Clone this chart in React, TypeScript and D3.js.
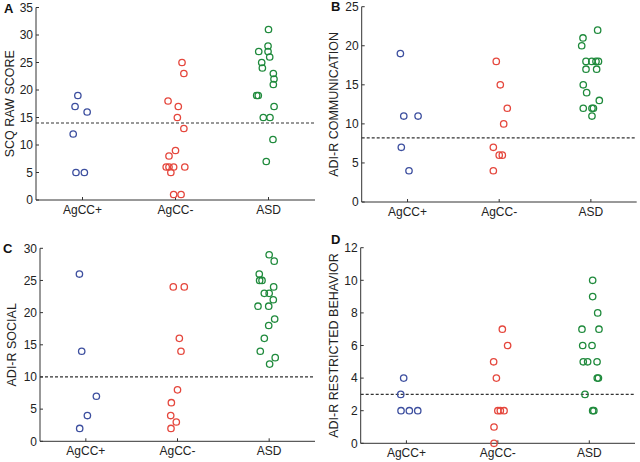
import React from "react";
import * as d3 from "d3";

const groups = ["AgCC+", "AgCC-", "ASD"];
const colors = ["#3d4f9f", "#e5473d", "#1f8a3c"];

// Panel A: SCQ raw score
const scqPlus = [19, 17, 16, 12, 5, 5];
const scqPlusJ = [-0.05, -0.08, 0.05, -0.1, -0.07, 0.02];
const scqMinus = [25, 23, 18, 17, 15, 13, 9, 8, 6, 6, 6, 6, 5, 1, 1];
const scqMinusJ = [0.07, 0.09, -0.08, 0.03, 0.02, 0.09, 0.0, -0.07, -0.1, -0.07, -0.02, 0.1, -0.05, -0.02, 0.06];
const scqAsd = [31, 28, 27, 27, 26, 25, 24, 23, 22, 21, 19, 19, 17, 15, 15, 11, 7];
const scqAsdJ = [0, -0.005, -0.005, -0.105, 0.013, -0.073, -0.066, 0.052, 0.059, 0.052, -0.127, -0.11, 0.06, -0.056, 0.016, 0.048, -0.024];
const scqCutoff = 14;

// Panel B: ADI-R communication
const commPlus = [19, 11, 11, 7, 4];
const commPlusJ = [-0.078, -0.041, 0.115, -0.068, 0.016];
const commMinus = [18, 15, 12, 10, 7, 6, 6, 4];
const commMinusJ = [-0.032, 0.012, 0.088, 0.049, -0.064, 0, 0.034, -0.064];
const commAsd = [22, 21, 20, 18, 18, 18, 18, 17, 17, 15, 14, 13, 12, 12, 12, 11];
const commAsdJ = [0.074, -0.086, -0.1, -0.053, 0.01, 0.056, 0.083, -0.053, 0.063, -0.083, -0.046, 0.092, -0.083, 0.012, 0.028, 0.012];
const commCutoff = 8.2;

// Panel C: ADI-R social
const socPlus = [26, 14, 7, 4, 2];
const socPlusJ = [-0.07, -0.045, 0.115, 0.017, -0.067];
const socMinus = [24, 24, 16, 14, 8, 6, 4, 3, 2];
const socMinusJ = [-0.046, 0.074, 0.02, 0.038, 0, -0.067, -0.074, -0.013, -0.071];
const socAsd = [29, 28, 26, 25, 25, 24, 23, 23, 22, 21, 21, 19, 18, 16, 14, 13, 12];
const socAsdJ = [0, 0.055, -0.108, -0.104, -0.078, 0.049, -0.053, 0, 0.045, -0.122, -0.005, 0.06, -0.005, -0.053, -0.097, 0.066, 0.005];
const socCutoff = 10;

// Panel D: ADI-R restricted behavior
const rrbPlus = [4, 3, 2, 2, 2];
const rrbPlusJ = [-0.03, -0.062, -0.059, 0.032, 0.124];
const rrbMinus = [7, 6, 5, 4, 2, 2, 2, 1, 0];
const rrbMinusJ = [0.049, 0.107, -0.046, -0.016, 0, 0.027, 0.068, -0.042, -0.042];
const rrbAsd = [10, 9, 8, 7, 7, 6, 6, 5, 5, 5, 4, 4, 3, 2, 2];
const rrbAsdJ = [0.037, 0.037, 0.092, -0.08, 0.106, -0.072, 0.03, -0.066, -0.018, 0.085, 0.087, 0.1, -0.047, 0.037, 0.05];
const rrbCutoff = 3;

const panels = [
  {
    letter: "A", label: "SCQ RAW SCORE", yMax: 35, step: 5, cutoff: scqCutoff,
    values: [scqPlus, scqMinus, scqAsd], jitter: [scqPlusJ, scqMinusJ, scqAsdJ],
    left: 36, right: 315, top: 7.5, bottom: 200, labelX: 14, letterX: 4, letterY: 13,
  },
  {
    letter: "B", label: "ADI-R COMMUNICATION", yMax: 25, step: 5, cutoff: commCutoff,
    values: [commPlus, commMinus, commAsd], jitter: [commPlusJ, commMinusJ, commAsdJ],
    left: 361.7, right: 636.7, top: 6.7, bottom: 202, labelX: 338, letterX: 331, letterY: 11,
  },
  {
    letter: "C", label: "ADI-R SOCIAL", yMax: 30, step: 5, cutoff: socCutoff,
    values: [socPlus, socMinus, socAsd], jitter: [socPlusJ, socMinusJ, socAsdJ],
    left: 40, right: 315, top: 248.3, bottom: 441.3, labelX: 16, letterX: 3, letterY: 253,
  },
  {
    letter: "D", label: "ADI-R RESTRICTED BEHAVIOR", yMax: 12, step: 2, cutoff: rrbCutoff,
    values: [rrbPlus, rrbMinus, rrbAsd], jitter: [rrbPlusJ, rrbMinusJ, rrbAsdJ],
    left: 360.7, right: 635, top: 247.7, bottom: 443.3, labelX: 338, letterX: 331, letterY: 244,
  },
];

const font = "Liberation Sans, Arial, Helvetica, sans-serif";
const axisColor = "#333";

function Panel({ p }: { p: (typeof panels)[number] }) {
  const x = d3.scaleLinear().domain([0.5, 3.5]).range([p.left, p.right]);
  const y = d3.scaleLinear().domain([0, p.yMax]).range([p.bottom, p.top]);
  const ticks = d3.range(0, p.yMax + 0.001, p.step);
  return (
    <g>
      <text x={p.letterX} y={p.letterY} fontFamily={font} fontWeight="bold" fontSize={13} fill="#111">
        {p.letter}
      </text>
      <text
        transform={`translate(${p.labelX},${(p.top + p.bottom) / 2}) rotate(-90)`}
        textAnchor="middle"
        fontFamily={font}
        fontSize={12.5}
        fill="#222"
      >
        {p.label}
      </text>
      {/* axes */}
      <line x1={x(0.5)} x2={x(0.5)} y1={y(p.yMax)} y2={y(0)} stroke={axisColor} strokeWidth={1} />
      <line x1={x(0.5)} x2={x(3.5)} y1={y(0)} y2={y(0)} stroke={axisColor} strokeWidth={1} />
      {ticks.map((t) => (
        <g key={t}>
          <line x1={x(0.5)} x2={x(0.5) + 3} y1={y(t)} y2={y(t)} stroke={axisColor} />
          <text
            x={x(0.5) - 3}
            y={y(t)}
            dy="0.36em"
            textAnchor="end"
            fontFamily={font}
            fontSize={12}
            fill="#222"
          >
            {t}
          </text>
        </g>
      ))}
      {groups.map((g, i) => (
        <g key={g}>
          <line x1={x(i + 1)} x2={x(i + 1)} y1={y(0)} y2={y(0) - 3} stroke={axisColor} />
          <text
            x={x(i + 1)}
            y={y(0) + 14}
            textAnchor="middle"
            fontFamily={font}
            fontSize={12}
            fill="#222"
          >
            {g}
          </text>
        </g>
      ))}
      {/* cutoff */}
      <line
        x1={x(0.5)}
        x2={x(3.5)}
        y1={y(p.cutoff)}
        y2={y(p.cutoff)}
        stroke="#333"
        strokeWidth={1.2}
        strokeDasharray="3,2"
      />
      {/* points */}
      {p.values.map((vals, gi) =>
        vals.map((v, k) => (
          <circle
            key={`${gi}-${k}`}
            cx={x(gi + 1 + p.jitter[gi][k])}
            cy={y(v)}
            r={3.2}
            fill="none"
            stroke={colors[gi]}
            strokeWidth={1.3}
          />
        ))
      )}
    </g>
  );
}

export default function App() {
  return (
    <svg
      width={640}
      height={462}
      style={{ position: "absolute", left: 0, top: 0, background: "#fff" }}
    >
      <rect width={640} height={462} fill="#fff" />
      {panels.map((p) => (
        <Panel key={p.letter} p={p} />
      ))}
    </svg>
  );
}
